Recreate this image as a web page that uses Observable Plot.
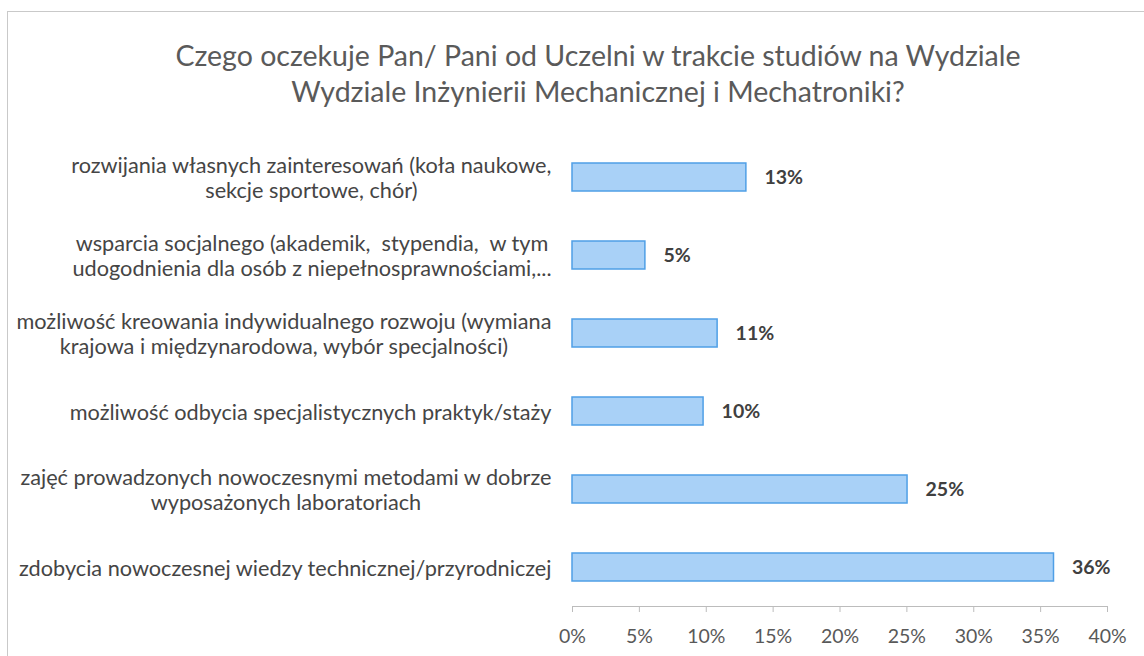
<!DOCTYPE html>
<html>
<head>
<meta charset="utf-8">
<script src="https://cdn.jsdelivr.net/npm/d3@7"></script>
<script src="https://cdn.jsdelivr.net/npm/@observablehq/plot@0.6"></script>
<style>
  html, body { margin: 0; padding: 0; background: #fff; }
  #wrap { position: relative; width: 1144px; height: 656px; overflow: hidden; background: #fff; font-family: Lato, "Noto Sans", sans-serif; }
  #frame { position: absolute; left: 7px; top: 11px; width: 1200px; height: 700px; border: 1px solid #c9c9c9; box-sizing: border-box; }
  #title { position: absolute; left: 0; top: 37px; width: 1196px; text-align: center; font-size: 28.5px; line-height: 36px; color: #5a5a5a; }
  #chart { position: absolute; left: 0; top: 0; }
</style>
</head>
<body>
<div id="wrap">
  <div id="frame"></div>
  <div id="title">Czego oczekuje Pan/ Pani od Uczelni w trakcie studiów na Wydziale<br>Wydziale Inżynierii Mechanicznej i Mechatroniki?</div>
  <div id="chart"></div>
</div>
<script>
const categories = [
  "rozwijania własnych zainteresowań (koła naukowe,\nsekcje sportowe, chór)",
  "wsparcia socjalnego (akademik,  stypendia,  w tym\nudogodnienia dla osób z niepełnosprawnościami,...",
  "możliwość kreowania indywidualnego rozwoju (wymiana\nkrajowa i międzynarodowa, wybór specjalności)",
  "możliwość odbycia specjalistycznych praktyk/staży",
  "zajęć prowadzonych nowoczesnymi metodami w dobrze\nwyposażonych laboratoriach",
  "zdobycia nowoczesnej wiedzy technicznej/przyrodniczej"
];
const values = [0.130, 0.0545, 0.1085, 0.098, 0.2505, 0.360];
const xTicks = [0, 0.05, 0.10, 0.15, 0.20, 0.25, 0.30, 0.35, 0.40];

const data = categories.map((c, i) => ({category: c, value: values[i]}));
const FONT = "Lato, 'Noto Sans', sans-serif";

const plot = Plot.plot({
  width: 1144,
  height: 656,
  marginTop: 138,
  marginBottom: 50,
  marginLeft: 572,
  marginRight: 37,
  style: {fontFamily: FONT, background: "transparent", overflow: "visible"},
  x: {domain: [0, 0.40], axis: null},
  y: {domain: categories, paddingInner: 0.64, paddingOuter: 0.32, axis: null},
  marks: [
    Plot.barX(data, {x: "value", y: "category", fill: "#a9d1f7", stroke: "#4f9fe6", strokeWidth: 1.5}),
    Plot.text(data, {x: "value", y: "category", text: d => d3.format(".0%")(d.value), dx: 18, textAnchor: "start", fontWeight: "bold", fontSize: 19.5, fill: "#404040"}),
    Plot.frame({anchor: "bottom", stroke: "#bcbcbc"}),
    Plot.axisX({ticks: xTicks, tickFormat: d3.format(".0%"), tickSize: 6, tickPadding: 17, fontSize: 19.5, color: "#595959", stroke: "#bcbcbc", label: null}),
    Plot.axisY({tickSize: 0, tickPadding: 21, fontSize: 21.7, lineHeight: 1.15, color: "#454545", label: null})
  ]
});
document.getElementById("chart").appendChild(plot);

// Excel-style: lines of a multi-line category label are centred on each other, block right-aligned
plot.querySelectorAll('g[aria-label="y-axis tick label"] text').forEach(t => {
  const w0 = t.getBBox().width;
  t.setAttribute("text-anchor", "middle");
  const prev = t.getAttribute("transform") || "";
  t.setAttribute("transform", prev + ` translate(${-w0 / 2},0)`);
});
</script>
</body>
</html>
